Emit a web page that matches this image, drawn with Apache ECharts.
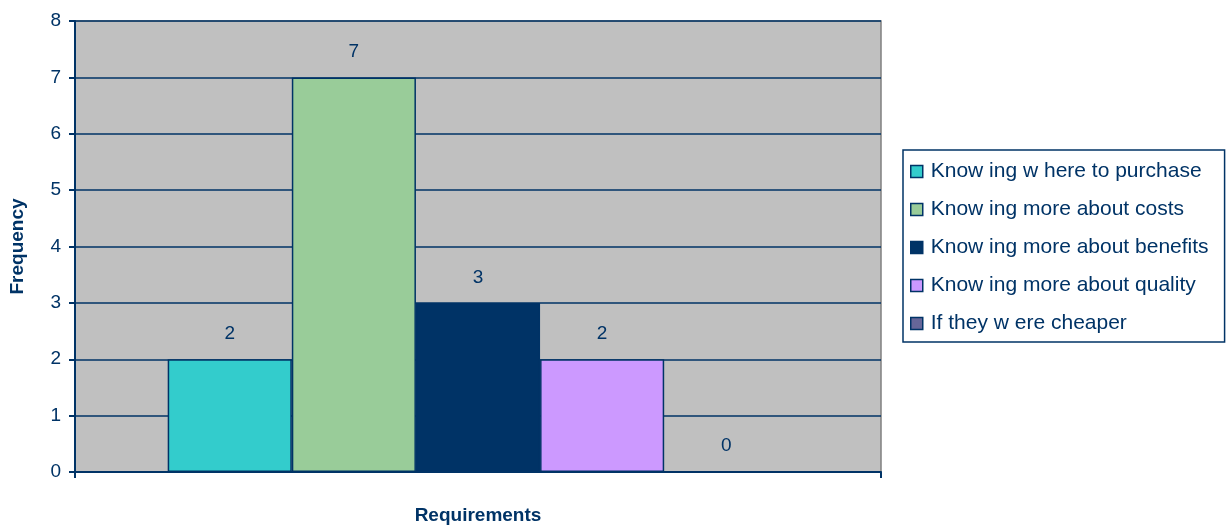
<!DOCTYPE html>
<html>
<head>
<meta charset="utf-8">
<script src="https://cdn.jsdelivr.net/npm/echarts@6/dist/echarts.min.js"></script>
<style>
  html, body { margin: 0; padding: 0; background: #fff; }
  #chart { width: 1230px; height: 525px; }
</style>
</head>
<body>
<div id="chart"></div>
<script>
var categories = [''];
var seriesNames = [
    'Know ing w here to purchase',
    'Know ing more about costs',
    'Know ing more about benefits',
    'Know ing more about quality',
    'If they w ere cheaper'
];
var seriesValues = [2, 7, 3, 2, 0];
var seriesColors = ['#33CCCC', '#99CC99', '#003366', '#CC99FF', '#666699'];
var yTicks = [0, 1, 2, 3, 4, 5, 6, 7, 8];

var navy = '#003366';
var chart = echarts.init(document.getElementById('chart'));

var series = seriesNames.map(function (name, i) {
    return {
        name: name,
        type: 'bar',
        data: [seriesValues[i]],
        barGap: '0%',
        barCategoryGap: '23%',
        itemStyle: {
            color: seriesColors[i],
            borderColor: navy,
            borderWidth: 1.5
        },
        label: {
            show: true,
            position: 'top',
            distance: 16,
            color: navy,
            fontSize: 19
        }
    };
});

var option = {
    animation: false,
    textStyle: { fontFamily: 'Liberation Sans, Arial, sans-serif' },
    grid: {
        left: 75,
        right: 349,
        top: 21,
        bottom: 53,
        outerBoundsMode: 'none',
        containLabel: false,
        show: true,
        backgroundColor: '#C0C0C0',
        borderColor: '#808080',
        borderWidth: 1.5
    },
    legend: {
        orient: 'vertical',
        left: 903,
        top: 150,
        data: seriesNames,
        icon: 'rect',
        itemWidth: 12,
        itemHeight: 12,
        itemGap: 17,
        padding: [11, 16, 8, 7],
        borderColor: navy,
        borderWidth: 1.5,
        itemStyle: { borderColor: navy, borderWidth: 1.5 },
        textStyle: {
            color: navy,
            fontSize: 21,
            padding: [0, 0, 0, 3]
        }
    },
    xAxis: {
        type: 'category',
        data: categories,
        name: 'Requirements',
        nameLocation: 'middle',
        nameGap: 34,
        nameTextStyle: { color: navy, fontSize: 19, fontWeight: 'bold' },
        axisLine: { lineStyle: { color: navy, width: 2 } },
        axisTick: { show: true, length: 6, lineStyle: { color: navy, width: 2 } },
        axisLabel: { show: false }
    },
    yAxis: {
        type: 'value',
        min: yTicks[0],
        max: yTicks[yTicks.length - 1],
        interval: 1,
        name: 'Frequency',
        nameLocation: 'middle',
        nameRotate: 90,
        nameGap: 48,
        nameTextStyle: { color: navy, fontSize: 19, fontWeight: 'bold' },
        axisLine: { show: true, lineStyle: { color: navy, width: 2 } },
        axisTick: { show: true, length: 6, lineStyle: { color: navy, width: 2 } },
        axisLabel: { color: navy, fontSize: 19, margin: 14 },
        splitLine: { show: true, lineStyle: { color: navy, width: 1.5 } }
    },
    series: series
};

chart.setOption(option);
</script>
</body>
</html>
